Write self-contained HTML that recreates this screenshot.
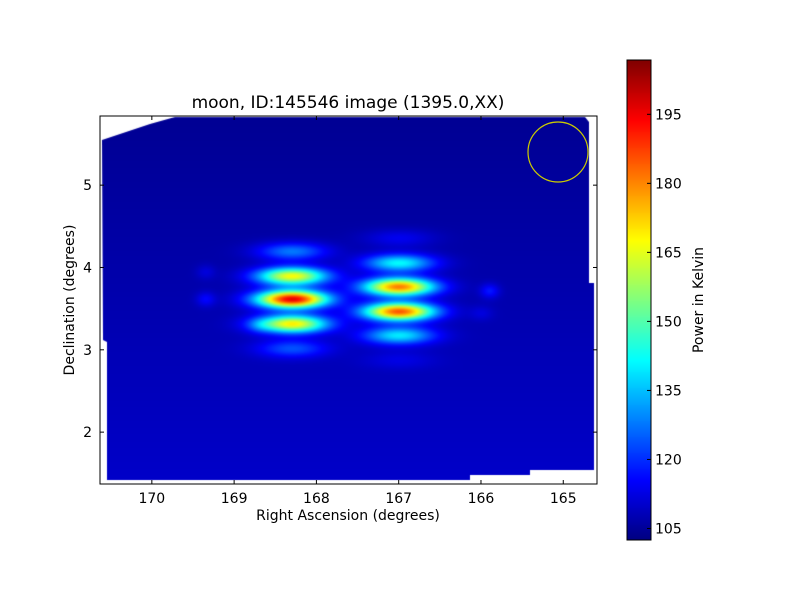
<!DOCTYPE html>
<html><head><meta charset="utf-8"><style>
body{margin:0;background:#fff;width:800px;height:600px;overflow:hidden;font-family:"Liberation Sans","DejaVu Sans",sans-serif}
svg text{font-family:"DejaVu Sans","Liberation Sans",sans-serif;fill:#000}
#wrap{position:relative;width:800px;height:600px}
canvas{position:absolute}
</style></head><body>
<div id="wrap">
<canvas id="heat" width="497" height="368" style="left:100px;top:116px"></canvas>
<canvas id="cbar" width="24" height="480" style="left:627px;top:60px"></canvas>
<svg id="svg" width="800" height="600" style="position:absolute;left:0;top:0"></svg>
</div>
<script>
// ----- data -----
const blobRA   = [168.3,168.3,168.3,168.3,168.3, 167.0,167.0,167.0,167.0,167.0,167.0, 169.35,169.35,165.9,168.7,166.0];
const blobDec  = [4.2, 3.9, 3.62, 3.32, 3.02, 4.36, 4.06, 3.77, 3.47, 3.18, 2.88, 3.95, 3.62, 3.72, 3.3, 3.45];
const blobPeak = [128, 168, 197, 170, 124, 114, 142, 182, 186, 140, 113, 112, 116, 118, 113, 112];
const blobSigRA  = [0.3,0.3,0.3,0.3,0.3, 0.3,0.3,0.3,0.3,0.3,0.3, 0.08,0.08,0.08,0.1,0.1];
const blobSigDec = [0.075,0.075,0.075,0.075,0.075, 0.075,0.075,0.075,0.075,0.075,0.075, 0.06,0.06,0.06,0.06,0.06];
const baseTop = 104.5, baseBottom = 110;
const xTicks = [170,169,168,167,166,165];
const yTicks = [2,3,4,5];
const cTicks = [105,120,135,150,165,180,195];

const X0=100,X1=597,Y0=116,Y1=484;
const raL=170.63, raR=164.59, decT=5.84, decB=1.37;
const sx=v=>X0+(raL-v)/(raL-raR)*(X1-X0);
const sy=v=>Y0+(decT-v)/(decT-decB)*(Y1-Y0);
const invx=p=>raL-(p-X0)/(X1-X0)*(raL-raR);
const invy=p=>decT-(p-Y0)/(Y1-Y0)*(decT-decB);
const cMin=102.5,cMax=206.8;
const cy=v=>60+(cMax-v)/(cMax-cMin)*480;

function jet(t){t=Math.max(0,Math.min(1,t));
 const c=v=>Math.round(255*Math.max(0,Math.min(1,v)));
 return [c(1.5-Math.abs(4*t-3)),c(1.5-Math.abs(4*t-2)),c(1.5-Math.abs(4*t-1))];}

// heatmap
const hc=document.getElementById('heat').getContext('2d');
const mask=[[2,24],[50,8],[75,1],[485,1],[489,6],[489,167],[494,167],[494,354],[430,354],[430,359],[370,359],[370,364],[7,364],[7,226],[3,224]];
hc.beginPath();mask.forEach((p,i)=>i?hc.lineTo(p[0],p[1]):hc.moveTo(p[0],p[1]));hc.closePath();
const img=hc.createImageData(497,368);
for(let py=0;py<368;py++){const d=invy(py+Y0);
 const base=baseTop+(baseBottom-baseTop)*(decT-d)/(decT-decB);
 for(let px=0;px<497;px++){const r=invx(px+X0);
  let T=base;
  for(let k=0;k<blobRA.length;k++){const dx=(r-blobRA[k])/blobSigRA[k],dy=(d-blobDec[k])/blobSigDec[k];
   T+=(blobPeak[k]-base)*Math.exp(-0.5*(dx*dx+dy*dy));}
  const c=jet((T-cMin)/(cMax-cMin));const i=(py*497+px)*4;
  img.data[i]=c[0];img.data[i+1]=c[1];img.data[i+2]=c[2];img.data[i+3]=255;}}
const off=document.createElement('canvas');off.width=497;off.height=368;off.getContext('2d').putImageData(img,0,0);
hc.save();hc.filter='blur(0.8px)';hc.clip();hc.drawImage(off,0,0);hc.restore();

// colorbar
const cc=document.getElementById('cbar').getContext('2d');
for(let y=0;y<480;y++){const c=jet(1-y/480);cc.fillStyle=`rgb(${c})`;cc.fillRect(0,y,24,1);}

// svg overlay
const S=document.getElementById('svg');const NS='http://www.w3.org/2000/svg';
function el(t,a,txt){const e=document.createElementNS(NS,t);for(const k in a)e.setAttribute(k,a[k]);if(txt!==undefined)e.textContent=txt;S.appendChild(e);return e;}
let e;
e=el('rect',{x:X0,y:Y0,width:X1-X0,height:Y1-Y0,fill:'none',stroke:'#000','stroke-width':1});


e=el('circle',{cx:558,cy:152,r:30,fill:'none',stroke:'#cccc00','stroke-width':1.2});


xTicks.forEach(v=>{const x=sx(v);
 el('line',{x1:x,x2:x,y1:Y1,y2:Y1-4,stroke:'#000'});el('line',{x1:x,x2:x,y1:Y0,y2:Y0+4,stroke:'#000'});
 e=el('text',{x:x,y:Y1+19,'text-anchor':'middle','font-size':14},String(v));
 
 });
yTicks.forEach(v=>{const y=sy(v);
 el('line',{x1:X0,x2:X0+4,y1:y,y2:y,stroke:'#000'});el('line',{x1:X1,x2:X1-4,y1:y,y2:y,stroke:'#000'});
 e=el('text',{x:X0-8,y:y+5,'text-anchor':'end','font-size':14},String(v));
 
 });
e=el('rect',{x:627,y:60,width:24,height:480,fill:'none',stroke:'#000'});


cTicks.forEach(v=>{const y=cy(v);
 el('line',{x1:651,x2:647,y1:y,y2:y,stroke:'#000'});
 e=el('text',{x:655,y:y+5,'font-size':14},String(v));
 
 });
e=el('text',{x:348,y:108,'text-anchor':'middle','font-size':17},'moon, ID:145546 image (1395.0,XX)');


e=el('text',{x:348,y:520,'text-anchor':'middle','font-size':14},'Right Ascension (degrees)');


e=el('text',{x:74,y:300,'text-anchor':'middle','font-size':14,transform:'rotate(-90 74 300)'},'Declination (degrees)');


e=el('text',{x:703,y:300,'text-anchor':'middle','font-size':14,transform:'rotate(-90 703 300)'},'Power in Kelvin');


</script>
</body></html>
